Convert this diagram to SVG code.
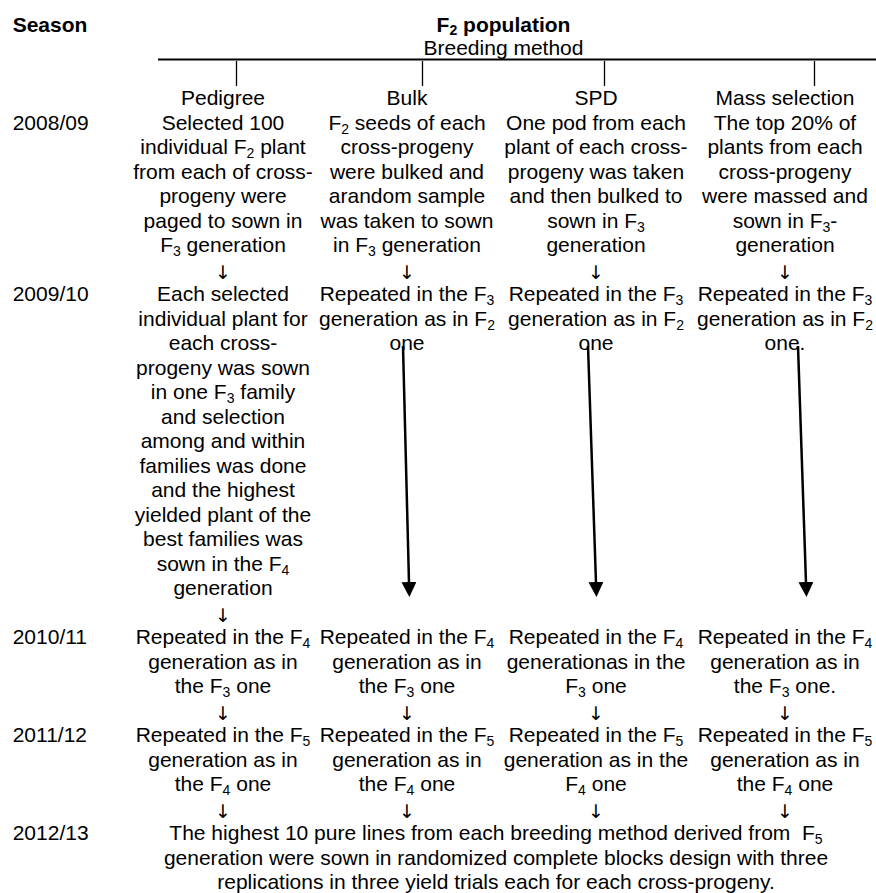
<svg xmlns="http://www.w3.org/2000/svg" width="876" height="893" viewBox="0 0 876 893">
<defs>
<style>
text{font-family:"Liberation Sans",Arial,Helvetica,sans-serif;font-size:21px;fill:#000}
.c{text-anchor:middle}
.b{font-weight:bold}
.s{font-size:14px}
.ar{font-family:"DejaVu Sans",sans-serif;font-size:19px;text-anchor:middle}
.ln{stroke:#000;fill:none}
</style>
<marker id="ah" viewBox="0 0 15 15" markerWidth="15" markerHeight="15" markerUnits="userSpaceOnUse" refX="1" refY="7.5" orient="auto">
<path d="M0,0 L15,7.5 L0,15 z" fill="#000"/>
</marker>
</defs>
<rect width="876" height="893" fill="#fff"/>

<g id="header">
<text x="12.7" y="31.5" class="b">Season</text>
<text x="503.5" y="31.5" class="c b">F<tspan class="s" dy="3">2</tspan><tspan dy="-3"> population</tspan></text>
<text x="503.5" y="55" class="c">Breeding method</text>
<line class="ln" x1="158" y1="59.5" x2="876" y2="59.5" stroke-width="2"/>
<line class="ln" x1="236.5" y1="61" x2="236.5" y2="86" stroke-width="1.3"/>
<line class="ln" x1="422.5" y1="61" x2="422.5" y2="86" stroke-width="1.3"/>
<line class="ln" x1="604.5" y1="61" x2="604.5" y2="86" stroke-width="1.3"/>
<line class="ln" x1="814.5" y1="61" x2="814.5" y2="86" stroke-width="1.3"/>
</g>

<g id="seasons">
<text x="12.7" y="129.5">2008/09</text>
<text x="12.7" y="301">2009/10</text>
<text x="12.7" y="644">2010/11</text>
<text x="12.7" y="742">2011/12</text>
<text x="12.7" y="840">2012/13</text>
</g>

<g id="method-pedigree"><text x="223" y="105" class="c">Pedigree</text></g>
<g id="method-bulk"><text x="407" y="105" class="c">Bulk</text></g>
<g id="method-spd"><text x="596" y="105" class="c">SPD</text></g>
<g id="method-mass"><text x="785" y="105" class="c">Mass selection</text></g>

<g id="pedigree-2008">
<text x="223" y="129.5" class="c">Selected 100</text>
<text x="223" y="154" class="c">individual F<tspan class="s" dy="4">2</tspan><tspan dy="-4"> plant</tspan></text>
<text x="223" y="178.5" class="c">from each of cross-</text>
<text x="223" y="203" class="c">progeny were</text>
<text x="223" y="227.5" class="c">paged to sown in</text>
<text x="223" y="252" class="c">F<tspan class="s" dy="4">3</tspan><tspan dy="-4"> generation</tspan></text>
</g>
<g id="bulk-2008">
<text x="407" y="129.5" class="c">F<tspan class="s" dy="4">2</tspan><tspan dy="-4"> seeds of each</tspan></text>
<text x="407" y="154" class="c">cross-progeny</text>
<text x="407" y="178.5" class="c">were bulked and</text>
<text x="407" y="203" class="c">arandom sample</text>
<text x="407" y="227.5" class="c">was taken to sown</text>
<text x="407" y="252" class="c">in F<tspan class="s" dy="4">3</tspan><tspan dy="-4"> generation</tspan></text>
</g>
<g id="spd-2008">
<text x="596" y="129.5" class="c">One pod from each</text>
<text x="596" y="154" class="c">plant of each cross-</text>
<text x="596" y="178.5" class="c">progeny was taken</text>
<text x="596" y="203" class="c">and then bulked to</text>
<text x="596" y="227.5" class="c">sown in F<tspan class="s" dy="4">3</tspan></text>
<text x="596" y="252" class="c">generation</text>
</g>
<g id="mass-2008">
<text x="785" y="129.5" class="c">The top 20% of</text>
<text x="785" y="154" class="c">plants from each</text>
<text x="785" y="178.5" class="c">cross-progeny</text>
<text x="785" y="203" class="c">were massed and</text>
<text x="785" y="227.5" class="c">sown in F<tspan class="s" dy="4">3</tspan><tspan dy="-4">-</tspan></text>
<text x="785" y="252" class="c">generation</text>
</g>

<g id="pedigree-2009">
<text x="223" y="301" class="c">Each selected</text>
<text x="223" y="325.5" class="c">individual plant for</text>
<text x="223" y="350" class="c">each cross-</text>
<text x="223" y="374.5" class="c">progeny was sown</text>
<text x="223" y="399" class="c">in one F<tspan class="s" dy="4">3</tspan><tspan dy="-4"> family</tspan></text>
<text x="223" y="423.5" class="c">and selection</text>
<text x="223" y="448" class="c">among and within</text>
<text x="223" y="472.5" class="c">families was done</text>
<text x="223" y="497" class="c">and the highest</text>
<text x="223" y="521.5" class="c">yielded plant of the</text>
<text x="223" y="546" class="c">best families was</text>
<text x="223" y="570.5" class="c">sown in the F<tspan class="s" dy="4">4</tspan></text>
<text x="223" y="595" class="c">generation</text>
</g>
<g id="bulk-2009">
<text x="407" y="301" class="c">Repeated in the F<tspan class="s" dy="4">3</tspan></text>
<text x="407" y="325.5" class="c">generation as in F<tspan class="s" dy="4">2</tspan></text>
<text x="407" y="350" class="c">one</text>
</g>
<g id="spd-2009">
<text x="596" y="301" class="c">Repeated in the F<tspan class="s" dy="4">3</tspan></text>
<text x="596" y="325.5" class="c">generation as in F<tspan class="s" dy="4">2</tspan></text>
<text x="596" y="350" class="c">one</text>
</g>
<g id="mass-2009">
<text x="785" y="301" class="c">Repeated in the F<tspan class="s" dy="4">3</tspan></text>
<text x="785" y="325.5" class="c">generation as in F<tspan class="s" dy="4">2</tspan></text>
<text x="785" y="350" class="c">one.</text>
</g>

<g id="pedigree-2010">
<text x="223" y="644" class="c">Repeated in the F<tspan class="s" dy="4">4</tspan></text>
<text x="223" y="668.5" class="c">generation as in</text>
<text x="223" y="693" class="c">the F<tspan class="s" dy="4">3</tspan><tspan dy="-4"> one</tspan></text>
</g>
<g id="bulk-2010">
<text x="407" y="644" class="c">Repeated in the F<tspan class="s" dy="4">4</tspan></text>
<text x="407" y="668.5" class="c">generation as in</text>
<text x="407" y="693" class="c">the F<tspan class="s" dy="4">3</tspan><tspan dy="-4"> one</tspan></text>
</g>
<g id="spd-2010">
<text x="596" y="644" class="c">Repeated in the F<tspan class="s" dy="4">4</tspan></text>
<text x="596" y="668.5" class="c">generationas in the</text>
<text x="596" y="693" class="c">F<tspan class="s" dy="4">3</tspan><tspan dy="-4"> one</tspan></text>
</g>
<g id="mass-2010">
<text x="785" y="644" class="c">Repeated in the F<tspan class="s" dy="4">4</tspan></text>
<text x="785" y="668.5" class="c">generation as in</text>
<text x="785" y="693" class="c">the F<tspan class="s" dy="4">3</tspan><tspan dy="-4"> one.</tspan></text>
</g>

<g id="pedigree-2011">
<text x="223" y="742" class="c">Repeated in the F<tspan class="s" dy="4">5</tspan></text>
<text x="223" y="766.5" class="c">generation as in</text>
<text x="223" y="791" class="c">the F<tspan class="s" dy="4">4</tspan><tspan dy="-4"> one</tspan></text>
</g>
<g id="bulk-2011">
<text x="407" y="742" class="c">Repeated in the F<tspan class="s" dy="4">5</tspan></text>
<text x="407" y="766.5" class="c">generation as in</text>
<text x="407" y="791" class="c">the F<tspan class="s" dy="4">4</tspan><tspan dy="-4"> one</tspan></text>
</g>
<g id="spd-2011">
<text x="596" y="742" class="c">Repeated in the F<tspan class="s" dy="4">5</tspan></text>
<text x="596" y="766.5" class="c">generation as in the</text>
<text x="596" y="791" class="c">F<tspan class="s" dy="4">4</tspan><tspan dy="-4"> one</tspan></text>
</g>
<g id="mass-2011">
<text x="785" y="742" class="c">Repeated in the F<tspan class="s" dy="4">5</tspan></text>
<text x="785" y="766.5" class="c">generation as in</text>
<text x="785" y="791" class="c">the F<tspan class="s" dy="4">4</tspan><tspan dy="-4"> one</tspan></text>
</g>

<g id="trials-2012">
<text x="496" y="840" class="c">The highest 10 pure lines from each breeding method derived from&#160; F<tspan class="s" dy="4">5</tspan></text>
<text x="496" y="864.5" class="c">generation were sown in randomized complete blocks design with three</text>
<text x="496" y="889" class="c">replications in three yield trials each for each cross-progeny.</text>
</g>

<g id="connectors">
<text x="223" y="279" class="ar">↓</text>
<text x="407" y="279" class="ar">↓</text>
<text x="596" y="279" class="ar">↓</text>
<text x="785" y="279" class="ar">↓</text>
<text x="223" y="622" class="ar">↓</text>
<text x="223" y="720" class="ar">↓</text>
<text x="407" y="720" class="ar">↓</text>
<text x="596" y="720" class="ar">↓</text>
<text x="785" y="720" class="ar">↓</text>
<text x="223" y="818" class="ar">↓</text>
<text x="407" y="818" class="ar">↓</text>
<text x="596" y="818" class="ar">↓</text>
<text x="785" y="818" class="ar">↓</text>
<line class="ln" x1="403" y1="346" x2="409" y2="583" stroke-width="2.5" marker-end="url(#ah)"/>
<line class="ln" x1="588" y1="346" x2="596" y2="583" stroke-width="2.5" marker-end="url(#ah)"/>
<line class="ln" x1="798" y1="346" x2="806" y2="583" stroke-width="2.5" marker-end="url(#ah)"/>
</g>
</svg>
